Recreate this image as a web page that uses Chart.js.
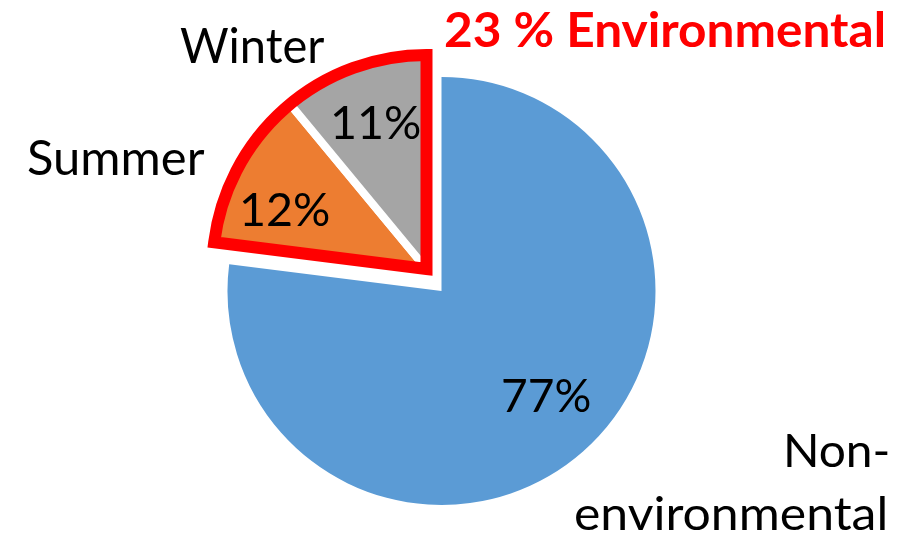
<!DOCTYPE html>
<html lang="en">
<head>
<meta charset="UTF-8">
<title>Environmental share</title>
<script src="https://cdn.jsdelivr.net/npm/chart.js"></script>
<style>
  html, body { margin: 0; padding: 0; background: #fff; }
  #wrap { width: 909px; height: 540px; position: relative; }
</style>
</head>
<body>
<div id="wrap"><canvas id="pieChart"></canvas></div>
<script>
// data
const categories = ['Non-environmental', 'Summer', 'Winter'];
const shares = [77, 12, 11];
const envIdx = [1, 2]; // slices pulled out as one wedge

// style
const sliceColors = ['#5B9BD5', '#ED7D31', '#A5A5A5'];
const red = '#FF0000';
const pull = { dx: -15, dy: -22 };
const fontFamily = 'Lato, "Open Sans", sans-serif';

// label ink boxes (left, baseline, width, cap height)
const pctOffsets = [[105, 104], [-141, -60], [-50, -147]]; // ink centre from slice centre
const nonLines = categories[0].replace('-', '-\n').split('\n');
const textBoxes = [
  { text: `${shares[1] + shares[2]} % Environmental`, x: 445, base: 47, w: 438, cap: 35, bold: true, color: red },
  { text: categories[2], x: 180, base: 63, w: 145, cap: 35 },
  { text: categories[1], x: 28, base: 175, w: 177, cap: 35 },
  { text: nonLines[0], x: 787, base: 467, w: 101, cap: 34 },
  { text: nonLines[1], x: 575, base: 530, w: 310, cap: 34 }
];

function drawInk(ctx, t) {
  const weight = t.bold ? '700' : '400';
  ctx.font = `${weight} 100px ${fontFamily}`;
  const capRatio = ctx.measureText('H').actualBoundingBoxAscent / 100;
  const size = t.cap / capRatio;
  ctx.font = `${weight} ${size}px ${fontFamily}`;
  const m = ctx.measureText(t.text);
  const inkW = m.actualBoundingBoxLeft + m.actualBoundingBoxRight;
  ctx.save();
  ctx.fillStyle = t.color || '#000';
  ctx.textBaseline = 'alphabetic';
  ctx.textAlign = 'left';
  ctx.translate(t.x, t.base);
  ctx.scale(t.w / inkW, 1);
  ctx.fillText(t.text, m.actualBoundingBoxLeft, 0);
  ctx.restore();
}

const explodePlugin = {
  id: 'explodeEnv',
  afterDatasetsUpdate(chart) {
    const arcs = chart.getDatasetMeta(0).data;
    envIdx.forEach(i => { arcs[i].x += pull.dx; arcs[i].y += pull.dy; });
  },
  afterDatasetsDraw(chart) {
    const arcs = chart.getDatasetMeta(0).data;
    const first = arcs[envIdx[0]];
    const last = arcs[envIdx[envIdx.length - 1]];
    const ctx = chart.ctx;
    ctx.save();
    ctx.beginPath();
    ctx.moveTo(first.x, first.y);
    ctx.arc(first.x, first.y, first.outerRadius, first.startAngle, last.endAngle);
    ctx.closePath();
    ctx.lineWidth = 12;
    ctx.lineJoin = 'miter';
    ctx.strokeStyle = red;
    ctx.stroke();
    ctx.restore();
  },
  afterDraw(chart) {
    const ctx = chart.ctx;
    const arcs = chart.getDatasetMeta(0).data;
    arcs.forEach((a, i) => {
      const cx = a.x + pctOffsets[i][0];
      const cy = a.y + pctOffsets[i][1];
      drawInk(ctx, { text: shares[i] + '%', x: cx - 43.5, base: cy + 17, w: 87, cap: 34 });
    });
    textBoxes.forEach(t => drawInk(ctx, t));
  }
};

new Chart(document.getElementById('pieChart'), {
  type: 'pie',
  data: {
    labels: categories,
    datasets: [{
      data: shares,
      backgroundColor: sliceColors,
      borderColor: '#FFFFFF',
      borderWidth: [0, 8, 8],
      offset: 0,
      hoverOffset: 0
    }]
  },
  options: {
    responsive: true,
    maintainAspectRatio: false,
    animation: false,
    events: [],
    radius: 214,
    layout: { padding: { left: 221, right: 247, top: 71, bottom: 29 } },
    plugins: {
      legend: { display: false },
      title: { display: false },
      tooltip: { enabled: false }
    }
  },
  plugins: [explodePlugin]
});
</script>
</body>
</html>
